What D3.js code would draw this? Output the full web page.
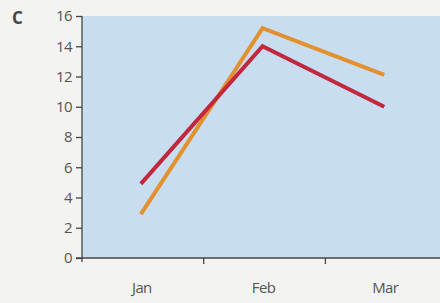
<!DOCTYPE html>
<html>
<head>
<meta charset="utf-8">
<script src="https://cdnjs.cloudflare.com/ajax/libs/d3/7.8.5/d3.min.js"></script>
<style>
  body { margin: 0; background: #f3f3f1; }
  svg { display: block; }
  .tick text { font-family: "Open Sans", sans-serif; font-size: 15px; fill: #555; letter-spacing: -0.6px; }
</style>
</head>
<body>
<div id="chart"></div>
<script>
// values
var months = ["Jan", "Feb", "Mar"];
var redSeries = [4.9, 14.0, 10.0];
var orangeSeries = [2.9, 15.2, 12.1];
var yTicks = [0, 2, 4, 6, 8, 10, 12, 14, 16];

var width = 440, height = 303;
var plotLeft = 82, plotTop = 16, plotBottom = 258;

var svg = d3.select("#chart")
  .append("svg")
  .attr("width", width)
  .attr("height", height);

// band scale so ticks fall between the months
var x = d3.scaleBand()
  .domain(months)
  .range([plotLeft, plotLeft + 3 * 121.7]);

var y = d3.scaleLinear()
  .domain([0, 16])
  .range([plotBottom, plotTop]);

// light blue plot area
svg.append("rect")
  .attr("x", plotLeft)
  .attr("y", y(16))
  .attr("width", width - plotLeft)
  .attr("height", y(0) - y(16))
  .attr("fill", "#c9ddf1");

// panel letter
svg.append("text")
  .attr("x", 12)
  .attr("y", 24)
  .attr("font-family", "Open Sans, sans-serif")
  .attr("font-weight", "bold")
  .attr("font-size", 17)
  .attr("fill", "#444")
  .text("C");

// y axis
var yAxis = svg.append("g")
  .attr("transform", "translate(" + plotLeft + ",0)")
  .call(d3.axisLeft(y).tickValues(yTicks).tickSize(6).tickPadding(4));
yAxis.select(".domain").attr("stroke", "#444").attr("stroke-width", 1.3).attr("d", "M0," + y(16) + "V" + (y(0) + 4));
yAxis.selectAll(".tick line").attr("stroke", "#444").attr("stroke-width", 1.3);

// x axis, ticks at the band edges
var xAxis = svg.append("g")
  .attr("transform", "translate(0," + plotBottom + ")");
xAxis.append("line")
  .attr("x1", plotLeft - 6).attr("x2", width)
  .attr("stroke", "#444").attr("stroke-width", 1.3);
xAxis.selectAll(".edge")
  .data(months.slice(1))
  .enter().append("line")
  .attr("x1", function(d) { return x(d); })
  .attr("x2", function(d) { return x(d); })
  .attr("y1", 0).attr("y2", 6)
  .attr("stroke", "#444").attr("stroke-width", 1.3);
xAxis.selectAll(".lbl")
  .data(months)
  .enter().append("text")
  .attr("class", "lbl")
  .attr("x", function(d) { return x(d) + x.bandwidth() / 2 - 1; })
  .attr("y", 35)
  .attr("text-anchor", "middle")
  .attr("font-family", "Open Sans, sans-serif")
  .attr("font-size", 15)
  .attr("letter-spacing", "-0.6px")
  .attr("fill", "#555")
  .text(function(d) { return d; });

var line = d3.line()
  .x(function(d, i) { return x(months[i]) + x.bandwidth() / 2 - 2; })
  .y(function(d) { return y(d); });

svg.append("path")
  .datum(orangeSeries)
  .attr("d", line)
  .attr("fill", "none")
  .attr("stroke", "#e3912f")
  .attr("stroke-width", 4);

svg.append("path")
  .datum(redSeries)
  .attr("d", line)
  .attr("fill", "none")
  .attr("stroke", "#c1283e")
  .attr("stroke-width", 4);
</script>
</body>
</html>
